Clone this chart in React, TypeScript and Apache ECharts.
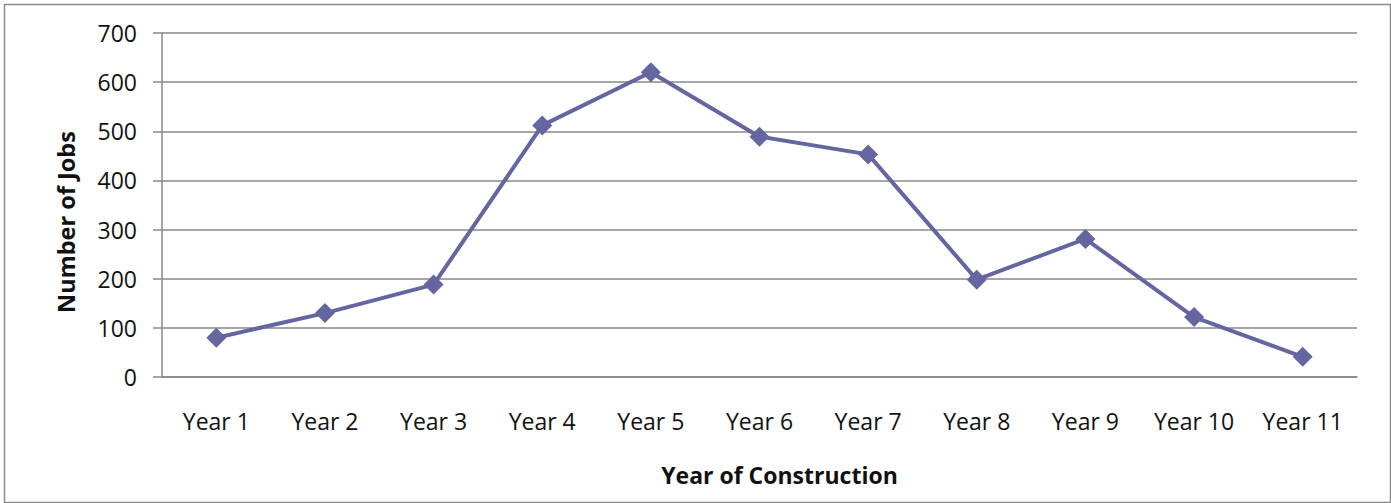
import React, { useEffect, useRef } from "react";
import * as echarts from "echarts";

const categories = ["Year 1", "Year 2", "Year 3", "Year 4", "Year 5", "Year 6", "Year 7", "Year 8", "Year 9", "Year 10", "Year 11"];
const jobs = [80, 130, 188, 512, 620, 489, 453, 198, 281, 122, 41];
const yTicks = { min: 0, max: 700, interval: 100 };

export default function App() {
  const ref = useRef<HTMLDivElement>(null);
  useEffect(() => {
    if (!ref.current) return;
    const chart = echarts.init(ref.current, null, { renderer: "svg" });
    const font = "'Open Sans', sans-serif";
    chart.setOption({
      animation: false,
      backgroundColor: "#ffffff",
      grid: { left: 162, right: 34, top: 33, bottom: 126 },
      graphic: [
        {
          type: "rect",
          left: 2,
          top: 2,
          shape: { width: 1386, height: 498 },
          style: { fill: "none", stroke: "#8a8a8a", lineWidth: 1.5 },
          silent: true,
        },
      ],
      xAxis: {
        type: "category",
        data: categories,
        boundaryGap: true,
        name: "Year of Construction",
        nameLocation: "middle",
        nameGap: 86,
        nameTextStyle: { fontFamily: font, fontSize: 23, fontWeight: "bold", color: "#111", padding: [0, 0, 0, 40] },
        axisLine: { show: true, lineStyle: { color: "#888", width: 1.5 } },
        axisTick: { show: false },
        axisLabel: { fontFamily: font, fontSize: 23, color: "#111", margin: 32, interval: 0 },
        splitLine: { show: false },
      },
      yAxis: {
        type: "value",
        min: yTicks.min,
        max: yTicks.max,
        interval: yTicks.interval,
        name: "Number of Jobs",
        nameLocation: "middle",
        nameGap: 84,
        nameTextStyle: { fontFamily: font, fontSize: 23.5, fontWeight: "bold", color: "#111", padding: [0, 34, 0, 0] },
        axisLine: { show: true, lineStyle: { color: "#888", width: 1.5 } },
        axisTick: { show: true, inside: false, length: 9, lineStyle: { color: "#888", width: 1.5 } },
        axisLabel: { fontFamily: font, fontSize: 23, color: "#111", margin: 25 },
        splitLine: { show: true, lineStyle: { color: "#888", width: 1.5 } },
      },
      series: [
        {
          type: "line",
          data: jobs,
          symbol: "diamond",
          symbolSize: 20,
          itemStyle: { color: "#65659f" },
          lineStyle: { color: "#65659f", width: 4 },
        },
      ],
    });
    return () => chart.dispose();
  }, []);
  return <div ref={ref} style={{ position: "absolute", left: 0, top: 0, width: 1391, height: 503 }} />;
}
